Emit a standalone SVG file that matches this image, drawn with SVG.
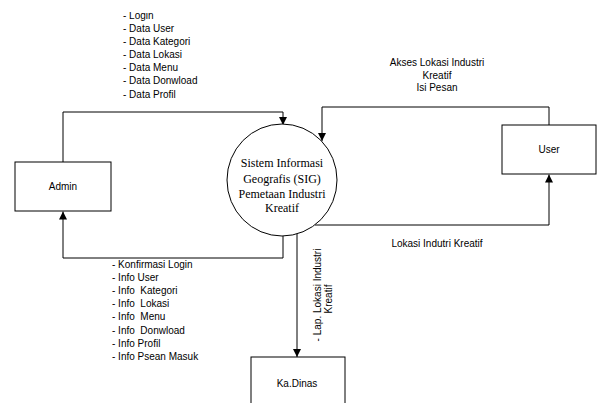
<svg xmlns="http://www.w3.org/2000/svg" width="597" height="403" viewBox="0 0 597 403">
<style>
.box{fill:#fff;stroke:#000;stroke-width:1}
.ln{fill:none;stroke:#000;stroke-width:1}
.s{font-family:"Liberation Sans",Arial,sans-serif;font-size:10px;fill:#000;white-space:pre}
.t{font-family:"Liberation Serif","Times New Roman",serif;font-size:12px;fill:#000;text-anchor:middle}
.m{text-anchor:middle}
</style>
<defs>
<marker id="ah" viewBox="0 0 10 10" refX="10" refY="5" markerWidth="8" markerHeight="8" markerUnits="userSpaceOnUse" orient="auto">
<path d="M0,0 L10,5 L0,10 Z" fill="#000"/>
</marker>
<clipPath id="c1"><rect x="0" y="12" width="597" height="391"/></clipPath>
<clipPath id="c2"><rect x="0" y="259" width="597" height="144"/></clipPath>
</defs>
<g id="connectors">
<path class="ln" d="M63,162 V112 H283 V125" marker-end="url(#ah)"/>
<path class="ln" d="M283,236 V258 H63 V211.5" marker-end="url(#ah)"/>
<path class="ln" d="M549,125 V107 H322 V141" marker-end="url(#ah)"/>
<path class="ln" d="M315,225 H549 V174.5" marker-end="url(#ah)"/>
<path class="ln" d="M297,234 V357" marker-end="url(#ah)"/>
</g>
<g id="labels">
<g clip-path="url(#c1)">
<text class="s" x="123" y="18.5">- Login</text>
</g>
<text class="s" x="123" y="31.5">- Data User</text>
<text class="s" x="123" y="44.7">- Data Kategori</text>
<text class="s" x="123" y="57.9">- Data Lokasi</text>
<text class="s" x="123" y="71.1">- Data Menu</text>
<text class="s" x="123" y="84.3">- Data Donwload</text>
<text class="s" x="123" y="97.5">- Data Profil</text>
<g clip-path="url(#c2)">
<text class="s" x="112" y="268">- Konfirmasi Login</text>
</g>
<text class="s" x="112" y="281.1">- Info User</text>
<text class="s" x="112" y="294.2">- Info  Kategori</text>
<text class="s" x="112" y="307.3">- Info  Lokasi</text>
<text class="s" x="112" y="320.4">- Info  Menu</text>
<text class="s" x="112" y="333.5">- Info  Donwload</text>
<text class="s" x="112" y="346.6">- Info Profil</text>
<text class="s" x="112" y="359.7">- Info Psean Masuk</text>
<text class="s m" x="437" y="66">Akses Lokasi Industri</text>
<text class="s m" x="437" y="78.5">Kreatif</text>
<text class="s m" x="437" y="91">Isi Pesan</text>
<text class="s m" x="437" y="247">Lokasi Indutri Kreatif</text>
<text class="s m" transform="translate(320.5,295) rotate(-90)">- Lap. Lokasi Industri</text>
<text class="s m" transform="translate(332,299) rotate(-90)">Kreatif</text>
</g>
<g id="admin">
<rect class="box" x="15" y="162" width="96" height="49"/>
<text class="s m" x="63" y="190">Admin</text>
</g>
<g id="user">
<rect class="box" x="502" y="125" width="94" height="49"/>
<text class="s m" x="549" y="153">User</text>
</g>
<g id="kadinas">
<rect class="box" x="251" y="357" width="94" height="60"/>
<text class="s m" x="297" y="387">Ka.Dinas</text>
</g>
<g id="sig">
<ellipse class="box" cx="282" cy="180" rx="55" ry="56"/>
<text class="t" x="282" y="167">Sistem Informasi</text>
<text class="t" x="282" y="182.5">Geografis (SIG)</text>
<text class="t" x="282" y="197.5">Pemetaan Industri</text>
<text class="t" x="282" y="212">Kreatif</text>
</g>
</svg>
